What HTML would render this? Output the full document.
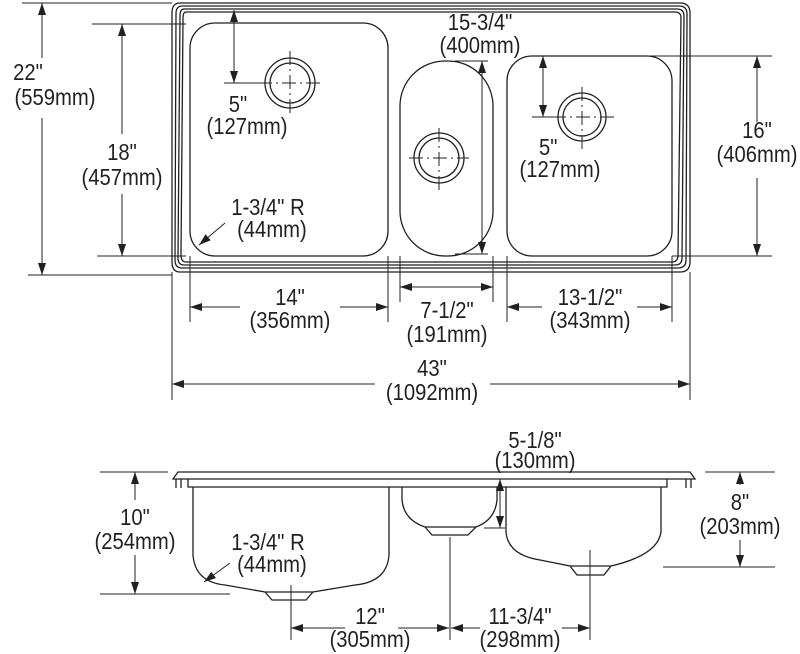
<!DOCTYPE html>
<html><head><meta charset="utf-8"><style>
html,body{margin:0;padding:0;background:#fff;}
svg{display:block;}
text{font-family:"Liberation Sans",Arial,sans-serif;font-size:23px;fill:#231f20;text-anchor:middle;}
</style></head><body>
<svg width="800" height="654" viewBox="0 0 800 654" xmlns="http://www.w3.org/2000/svg">
<defs>
<marker id="a" markerWidth="12" markerHeight="8" refX="12" refY="4" orient="auto-start-reverse" markerUnits="userSpaceOnUse"><path d="M0,0 L12,4 L0,8 Z" fill="#231f20"/></marker>
</defs>
<g fill="none" stroke="#231f20" stroke-width="1.3">
<path d="M180,3 L680,3 Q690,3 690,13 L690,262 Q690,272 680,272 L180,272 Q172,272 172,262 L172,13 Q172,3 180,3 Z"/>
<path d="M182,6 L679,6 Q687,6 687,14 L686,260 Q686,268 678,268 L182,268 Q175,268 175,260 L176,14 Q176,6 182,6 Z"/>
<path d="M184,9 L677,9 Q684,9 684,16 L682,258 Q682,265 675,265 L184,265 Q178,265 178,258 L180,16 Q180,9 184,9 Z"/>
<path d="M186,12 L675,12 Q681,12 681,18 L678,255 Q678,262 672,262 L186,262 Q181,262 181,255 L183,18 Q183,12 186,12 Z"/>
<rect x="190" y="23" width="198" height="233" rx="25"/>
<rect x="400" y="61" width="93" height="195" rx="45"/>
<rect x="507" y="56" width="165" height="200" rx="25"/>
<circle cx="290" cy="83" r="25"/><circle cx="290" cy="83" r="20"/>
<circle cx="439" cy="158" r="25"/><circle cx="439" cy="158" r="20"/>
<circle cx="582" cy="117" r="24"/><circle cx="582" cy="117" r="19"/>
</g>
<g stroke="#231f20" stroke-width="1" stroke-dasharray="14,4,2,4" fill="none">
<path d="M258,83 H322 M290,51 V115"/>
<path d="M409,158 H469 M439,128 V190"/>
<path d="M552,117 H614 M582,87 V149"/>
</g>
<g stroke="#231f20" stroke-width="1" fill="none">
<path d="M22,3 H172 M28,275 H172"/>
<path d="M42,3 V58" marker-start="url(#a)"/><path d="M42,118 V275" marker-end="url(#a)"/>
<path d="M92,24 H186 M97,256 H186"/>
<path d="M122,24 V134" marker-start="url(#a)"/><path d="M122,194 V256" marker-end="url(#a)"/>
<path d="M224,83 H258"/>
<path d="M234,10 V83" marker-start="url(#a)" marker-end="url(#a)"/>
<path d="M455,61 H488 M455,254 H488"/>
<path d="M482,61 V254" marker-start="url(#a)" marker-end="url(#a)"/>
<path d="M532,117 H552"/>
<path d="M543,56 V117" marker-start="url(#a)" marker-end="url(#a)"/>
<path d="M648,56 H772 M672,256 H772"/>
<path d="M757,56 V122" marker-start="url(#a)"/><path d="M757,178 V256" marker-end="url(#a)"/>
<path d="M225,223 L199,245" marker-end="url(#a)"/>
<path d="M190,256 V322 M388,256 V322 M400,256 V302 M493,256 V302 M507,256 V322 M672,256 V322 M172,272 V400 M690,272 V400"/>
<path d="M190,307 H240" marker-start="url(#a)"/><path d="M340,307 H388" marker-end="url(#a)"/>
<path d="M400,287 H493" marker-start="url(#a)" marker-end="url(#a)"/>
<path d="M507,307 H542" marker-start="url(#a)"/><path d="M637,307 H672" marker-end="url(#a)"/>
<path d="M172,384 H375" marker-start="url(#a)"/><path d="M490,384 H690" marker-end="url(#a)"/>
</g>
<g fill="none" stroke="#231f20" stroke-width="1.3">
<path d="M178,472 H690 L695,479 H173 Z"/>
<path d="M188,479 V487 H667 V479"/>
<path d="M176,479 V488 M181,479 V488 M686,479 V488 M691,479 V488"/>
<path d="M193,487 V555 Q195,582 225,585 L265,592 L272,600 H306 L313,592 L355,585 Q387,582 389,555 V487"/>
<path d="M265,592 H313"/>
<path d="M402,487 V500 Q404,520 425,527 L432,535 H468 L476,527 Q495,520 497,500 V487"/>
<path d="M425,527 H476"/>
<path d="M506,487 V532 Q508,555 540,560 L570,566 L577,575 H604 L611,566 Q658,555 661,532 V487"/>
<path d="M570,566 H611"/>
</g>
<g stroke="#231f20" stroke-width="1" fill="none">
<path d="M450,537 V640 M291,585 V640 M590,550 V640"/>
<path d="M100,472 H168 M100,594 H230"/>
<path d="M135,472 V500" marker-start="url(#a)"/><path d="M135,555 V594" marker-end="url(#a)"/>
<path d="M705,472 H775 M663,567 H775"/>
<path d="M740,472 V485" marker-start="url(#a)"/><path d="M740,540 V567" marker-end="url(#a)"/>
<path d="M484,528 H505"/>
<path d="M500,479 V528" marker-start="url(#a)" marker-end="url(#a)"/>
<path d="M230,563 L204,582" marker-end="url(#a)"/>
<path d="M291,628 H345" marker-start="url(#a)"/><path d="M398,628 H449" marker-end="url(#a)"/>
<path d="M451,628 H480" marker-start="url(#a)"/><path d="M562,628 H590" marker-end="url(#a)"/>
</g>
<g transform="scale(0.88,1)">
<text x="31.8" y="80">22"</text><text x="62.5" y="105">(559mm)</text>
<text x="138.6" y="160">18"</text><text x="138.6" y="185">(457mm)</text>
<text x="270.5" y="112">5"</text><text x="280.7" y="134">(127mm)</text>
<text x="545.5" y="30">15-3/4"</text><text x="545.5" y="53">(400mm)</text>
<text x="623" y="155">5"</text><text x="636.4" y="177">(127mm)</text>
<text x="860.2" y="138">16"</text><text x="860.2" y="162">(406mm)</text>
<text x="304.5" y="215">1-3/4" R</text><text x="309" y="237">(44mm)</text>
<text x="329.5" y="305">14"</text><text x="329.5" y="328">(356mm)</text>
<text x="508" y="318">7-1/2"</text><text x="508" y="342">(191mm)</text>
<text x="670.5" y="305">13-1/2"</text><text x="670.5" y="328">(343mm)</text>
<text x="490.9" y="376">43"</text><text x="490.9" y="400">(1092mm)</text>
<text x="608" y="448">5-1/8"</text><text x="608" y="468">(130mm)</text>
<text x="153.4" y="525">10"</text><text x="153.4" y="549">(254mm)</text>
<text x="840.9" y="510">8"</text><text x="840.9" y="534">(203mm)</text>
<text x="304.5" y="550">1-3/4" R</text><text x="309" y="572">(44mm)</text>
<text x="420.5" y="624">12"</text><text x="420.5" y="647">(305mm)</text>
<text x="590.9" y="624">11-3/4"</text><text x="590.9" y="647">(298mm)</text>
</g>
</svg>
</body></html>
